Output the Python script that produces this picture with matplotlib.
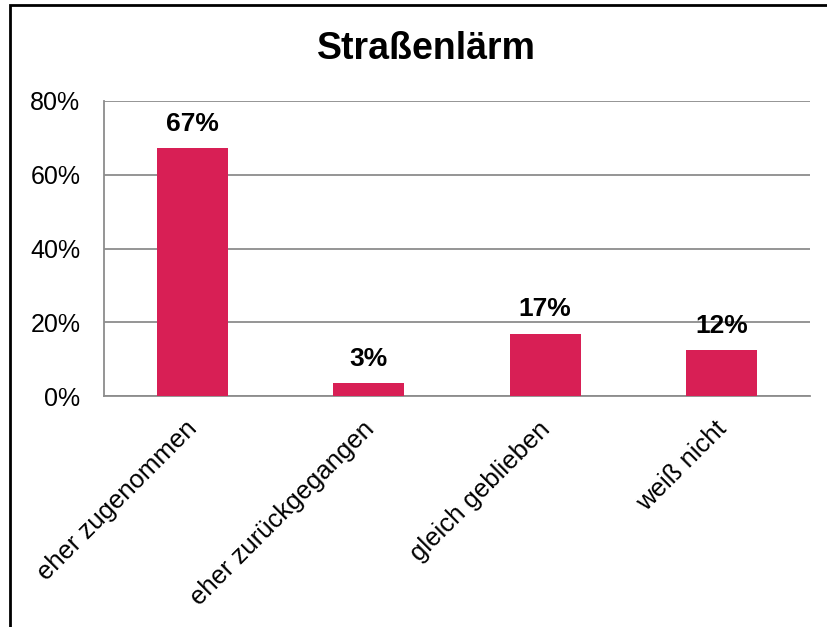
import matplotlib
matplotlib.use("Agg")
import matplotlib.pyplot as plt
from matplotlib.patches import Rectangle
from matplotlib.ticker import PercentFormatter
from matplotlib.transforms import ScaledTranslation

categories = ["eher zugenommen", "eher zurückgegangen", "gleich geblieben", "weiß nicht"]
values = [67.2, 3.4, 16.9, 12.4]
value_labels = ["67%", "3%", "17%", "12%"]
title = "Straßenlärm"

plt.rcParams["font.family"] = ["Liberation Sans", "DejaVu Sans"]

fig = plt.figure(figsize=(8.27, 6.27), dpi=100)
ax = fig.add_axes([104 / 827, 1 - 396 / 627, 706 / 827, 295 / 627])

x = range(len(categories))
bars = ax.bar(x, values, width=0.4, color="#D81F55", zorder=3)

ax.set_xlim(-0.5, len(categories) - 0.5)
ax.set_ylim(0, 80)
ax.set_yticks([0, 20, 40, 60, 80])
ax.yaxis.set_major_formatter(PercentFormatter(decimals=0))
ax.grid(axis="y", color="#8c8c8c", linewidth=1.3, zorder=0)
ax.set_axisbelow(True)

for side in ["top", "right"]:
    ax.spines[side].set_visible(False)
for side in ["left", "bottom"]:
    ax.spines[side].set_color("#8c8c8c")
    ax.spines[side].set_linewidth(1.3)

ax.tick_params(axis="y", length=0, labelsize=18, pad=17)
ax.tick_params(axis="x", length=0, labelsize=18.5, pad=12)
ax.set_xticks(list(x))
ax.set_xticklabels(categories, rotation=45, ha="right", rotation_mode="anchor")
shift = ScaledTranslation(-7 / 100, -4 / 100, fig.dpi_scale_trans)
for lbl in ax.get_xticklabels():
    lbl.set_transform(lbl.get_transform() + shift)

for b, lab in zip(bars, value_labels):
    ax.annotate(lab, (b.get_x() + b.get_width() / 2, b.get_height()),
                xytext=(0, 9), textcoords="offset points",
                ha="center", va="bottom", fontsize=19, fontweight="bold")

fig.text(426 / 827, 1 - 49 / 627, title, ha="center", va="center",
         fontsize=27, fontweight="bold")

# outer frame of the chart area
fig.patches.append(Rectangle((10 / 827, -0.1), 1.2, 1 - 5 / 627 + 0.1,
                             transform=fig.transFigure, fill=False,
                             edgecolor="black", linewidth=2))

fig.savefig("out.png", dpi=100)
